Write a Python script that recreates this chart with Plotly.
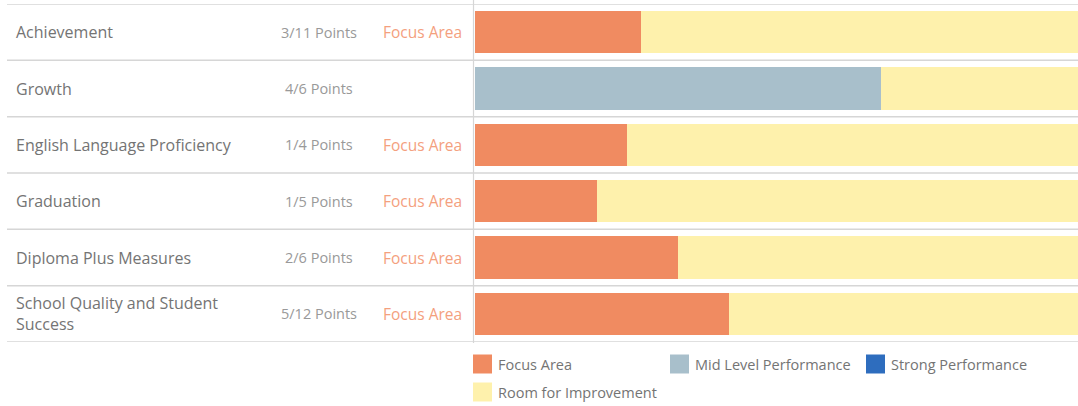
import plotly.graph_objects as go

categories = ["Achievement", "Growth", "English Language Proficiency", "Graduation",
              "Diploma Plus Measures", "School Quality and Student<br>Success"]
earned = [3, 4, 1, 1, 2, 5]
possible = [11, 6, 4, 5, 6, 12]
status = ["Focus Area", "Mid Level Performance", "Focus Area", "Focus Area", "Focus Area", "Focus Area"]
legend_labels = ["Focus Area", "Mid Level Performance", "Strong Performance", "Room for Improvement"]

colors = {
    "Focus Area": "#F08B61",
    "Mid Level Performance": "#A8BFCB",
    "Strong Performance": "#2E6DBE",
    "Room for Improvement": "#FEF1AC",
}

W, H = 1078, 406
fig = go.Figure()

ys = list(range(len(categories)))
frac = [e / p for e, p in zip(earned, possible)]
rest = [1 - f for f in frac]

for lvl in ["Focus Area", "Mid Level Performance", "Strong Performance"]:
    xv = [f if s == lvl else 0 for f, s in zip(frac, status)]
    fig.add_trace(go.Bar(x=xv, y=ys, orientation="h", marker_color=colors[lvl],
                         marker_line_width=0, width=0.75, name=lvl, showlegend=False,
                         hoverinfo="skip"))
fig.add_trace(go.Bar(x=rest, y=ys, orientation="h", marker_color=colors["Room for Improvement"],
                     marker_line_width=0, width=0.75, name="Room for Improvement",
                     showlegend=False, hoverinfo="skip"))

font_family = "'Open Sans', sans-serif"
name_color = "#747474"
pts_color = "#999999"
focus_txt = "#F4A07E"

ann = []
shapes = []
for i, (c, e, p, s) in enumerate(zip(categories, earned, possible, status)):
    ann.append(dict(x=14 / W, y=i, xref="paper", yref="y", text=c, showarrow=False,
                    xanchor="left", yanchor="middle", align="left",
                    font=dict(family=font_family, size=16, color=name_color)))
    ann.append(dict(x=319 / W, y=i, xref="paper", yref="y", text=f"{e}/{p} Points",
                    showarrow=False, xanchor="center", yanchor="middle",
                    font=dict(family=font_family, size=14.5, color=pts_color)))
    if s == "Focus Area":
        ann.append(dict(x=381 / W, y=i, xref="paper", yref="y", text=s, showarrow=False,
                        xanchor="left", yanchor="middle",
                        font=dict(family=font_family, size=15.5, color=focus_txt)))

for k in range(len(categories) + 1):
    shapes.append(dict(type="line", xref="paper", yref="y", x0=7 / W, x1=1,
                       y0=k - 0.5, y1=k - 0.5, line=dict(color="#d6d6d6", width=1.5),
                       layer="below"))
shapes.append(dict(type="line", xref="paper", yref="paper", x0=473.5 / W, x1=473.5 / W,
                   y0=1 - 343 / H, y1=1, line=dict(color="#d6d6d6", width=1.2), layer="below"))

# legend (manual)
leg_pos = [(473, 364), (670, 364), (866, 364), (473, 392)]
for lab, (lx, ly) in zip(legend_labels, leg_pos):
    shapes.append(dict(type="rect", xref="paper", yref="paper",
                       x0=lx / W, x1=(lx + 19) / W, y0=1 - (ly + 9.5) / H, y1=1 - (ly - 9.5) / H,
                       fillcolor=colors[lab], line_width=0))
    ann.append(dict(x=(lx + 23) / W, y=1 - ly / H, xref="paper", yref="paper", text=lab,
                    showarrow=False, xanchor="left", yanchor="middle",
                    font=dict(family=font_family, size=14.5, color=name_color)))

fig.update_layout(
    barmode="stack",
    width=W, height=H,
    margin=dict(l=0, r=0, t=0, b=0),
    paper_bgcolor="white", plot_bgcolor="white",
    xaxis=dict(domain=[474.5 / W, 1], range=[0, 0.99], showgrid=False, zeroline=False,
               showticklabels=False, fixedrange=True),
    yaxis=dict(domain=[1 - 342 / H, 1 - 4 / H], range=[5.5, -0.5], showgrid=False,
               zeroline=False, showticklabels=False, fixedrange=True),
    annotations=ann, shapes=shapes, bargap=0,
)

fig.write_html("out.html", config={"displayModeBar": False},
               post_script="document.body.style.margin='0px';document.body.style.overflow='hidden';")
